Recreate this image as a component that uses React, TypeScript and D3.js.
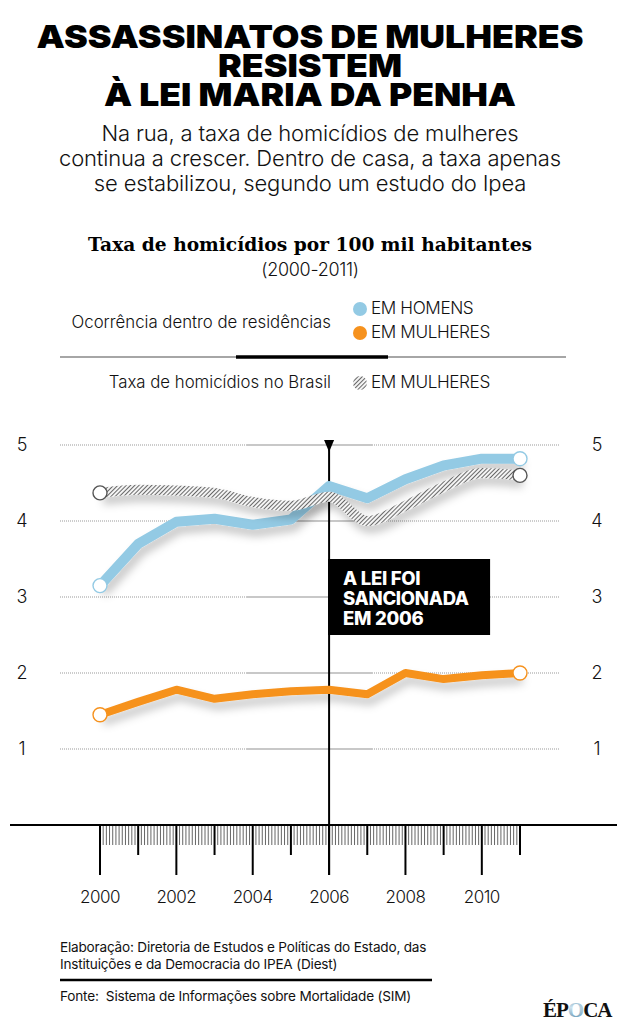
import React from 'react';
import * as d3 from 'd3';

const years = [2000, 2001, 2002, 2003, 2004, 2005, 2006, 2007, 2008, 2009, 2010, 2011];
const menHome = [3.15, 3.7, 3.99, 4.03, 3.95, 4.02, 4.46, 4.3, 4.55, 4.73, 4.82, 4.82];
const womenHome = [1.45, 1.62, 1.78, 1.66, 1.72, 1.76, 1.78, 1.72, 2.0, 1.92, 1.97, 2.0];
const womenBrazil = [4.37, 4.41, 4.4, 4.37, 4.25, 4.2, 4.32, 4.0, 4.2, 4.45, 4.63, 4.6];
const yTicks = [1, 2, 3, 4, 5];
const xLabels = [2000, 2002, 2004, 2006, 2008, 2010];
const lawYear = 2006;

const titleLines = ['ASSASSINATOS DE MULHERES', 'RESISTEM', 'À LEI MARIA DA PENHA'];
const titleWidths = [547, 184, 412];
const subtitleLines = [
  'Na rua, a taxa de homicídios de mulheres',
  'continua a crescer. Dentro de casa, a taxa apenas',
  'se estabilizou, segundo um estudo do Ipea',
];
const noteLines = ['A LEI FOI', 'SANCIONADA', 'EM 2006'];

const BLUE = '#93cae4';
const ORANGE = '#f6921e';
const SANS = 'Inter, "Noto Sans", sans-serif';

export default function App() {
  const x = d3.scaleLinear().domain([2000, 2011]).range([100, 520]);
  const y = d3.scaleLinear().domain([0, 5]).range([825, 445]);
  const lineLin = d3.line<number>().x((_, i) => x(years[i])).y((d) => y(d)).curve(d3.curveLinear);
  const lineSmooth = d3.line<number>().x((_, i) => x(years[i])).y((d) => y(d)).curve(d3.curveMonotoneX);

  const minor: number[] = [];
  for (let yr = 2000; yr < 2011; yr++) {
    for (let k = 1; k < 12; k++) minor.push(yr + k / 12);
  }

  const endCircles = (vals: number[], stroke: string) => (
    <g>
      {[0, vals.length - 1].map((i) => (
        <circle key={i} cx={x(years[i])} cy={y(vals[i])} r={7} fill="#fff" stroke={stroke} strokeWidth={1.4} />
      ))}
    </g>
  );

  return (
    <svg width={620} height={1026} style={{ position: 'absolute', left: 0, top: 0, background: '#fff' }}>
      <defs>
        <pattern id="hatch" patternUnits="userSpaceOnUse" width={3} height={3} patternTransform="rotate(45)">
          <rect width={3} height={3} fill="#f4f4f4" />
          <line x1={0} y1={0} x2={0} y2={3} stroke="#444" strokeWidth={1.6} />
        </pattern>
        <filter id="shadow" x="-10%" y="-50%" width="120%" height="200%">
          <feDropShadow dx={3} dy={7} stdDeviation={4} floodColor="#000" floodOpacity={0.22} />
        </filter>
        <radialGradient id="globe" cx="40%" cy="40%" r="60%">
          <stop offset="0%" stopColor="#cfe3ee" />
          <stop offset="100%" stopColor="#4d86a8" />
        </radialGradient>
      </defs>

      {/* Title */}
      {titleLines.map((t, i) => (
        <text key={t} x={310} y={48 + i * 29} textAnchor="middle" fontFamily={SANS} fontWeight={900}
          fontSize={32} textLength={titleWidths[i]} lengthAdjust="spacingAndGlyphs" fill="#000">{t}</text>
      ))}
      {subtitleLines.map((t, i) => (
        <text key={t} x={310} y={141 + i * 25} textAnchor="middle" fontFamily={SANS} fontWeight={300}
          fontSize={22} letterSpacing={-0.15} fill="#111">{t}</text>
      ))}

      {/* Chart title */}
      <text x={310} y={251} textAnchor="middle" fontFamily='"DejaVu Serif", serif' fontWeight={700}
        fontSize={18.5} textLength={444} lengthAdjust="spacingAndGlyphs" fill="#000">Taxa de homicídios por 100 mil habitantes</text>
      <text x={310} y={276} textAnchor="middle" fontFamily={SANS} fontWeight={300} fontSize={18} letterSpacing={-0.3} fill="#111">(2000-2011)</text>

      {/* Legend */}
      <text x={331} y={328} textAnchor="end" fontFamily={SANS} fontWeight={300} fontSize={16.8} fill="#111">Ocorrência dentro de residências</text>
      <circle cx={360} cy={309} r={7} fill={BLUE} />
      <text x={371} y={314} fontFamily={SANS} fontWeight={300} fontSize={17.2} letterSpacing={-0.4} fill="#111">EM HOMENS</text>
      <circle cx={360} cy={333} r={7} fill={ORANGE} />
      <text x={371} y={338} fontFamily={SANS} fontWeight={300} fontSize={17.2} letterSpacing={-0.4} fill="#111">EM MULHERES</text>
      <line x1={60} x2={566} y1={357} y2={357} stroke="#888" strokeWidth={1.5} />
      <line x1={236} x2={388} y1={357} y2={357} stroke="#000" strokeWidth={3.5} />
      <text x={331} y={388} textAnchor="end" fontFamily={SANS} fontWeight={300} fontSize={16.8} fill="#111">Taxa de homicídios no Brasil</text>
      <circle cx={360} cy={383} r={7} fill="url(#hatch)" />
      <text x={371} y={388} fontFamily={SANS} fontWeight={300} fontSize={17.2} letterSpacing={-0.4} fill="#111">EM MULHERES</text>

      {/* Gridlines */}
      {yTicks.map((t) => (
        <g key={t}>
          <line x1={60} x2={247} y1={y(t)} y2={y(t)} stroke="#999" strokeWidth={1.2} strokeDasharray="1 1" />
          <line x1={247} x2={372} y1={y(t)} y2={y(t)} stroke="#c8c8c8" strokeWidth={2} />
          <line x1={372} x2={560} y1={y(t)} y2={y(t)} stroke="#999" strokeWidth={1.2} strokeDasharray="1 1" />
          <text x={22} y={y(t)} dy="0.35em" textAnchor="middle" fontFamily={SANS} fontWeight={300} fontSize={18} fill="#111">{t}</text>
          <text x={597} y={y(t)} dy="0.35em" textAnchor="middle" fontFamily={SANS} fontWeight={300} fontSize={18} fill="#111">{t}</text>
        </g>
      ))}

      {/* Law vertical line */}
      <line x1={x(lawYear)} x2={x(lawYear)} y1={442} y2={875} stroke="#000" strokeWidth={2} />
      <path d={`M${x(lawYear) - 5},440 L${x(lawYear) + 5},440 L${x(lawYear)},452 Z`} fill="#000" />

      {/* X axis */}
      <line x1={10} x2={617} y1={825} y2={825} stroke="#000" strokeWidth={2} />
      {minor.map((m, i) => (
        <line key={i} x1={x(m)} x2={x(m)} y1={826} y2={845} stroke="#666" strokeWidth={1} />
      ))}
      {years.map((yr) => (
        <line key={yr} x1={x(yr)} x2={x(yr)} y1={825} y2={yr % 2 === 0 ? 875 : 855} stroke="#000" strokeWidth={2} />
      ))}
      {xLabels.map((yr) => (
        <text key={yr} x={x(yr)} y={903} textAnchor="middle" fontFamily={SANS} fontWeight={300} fontSize={17} letterSpacing={-0.5} fill="#111">{yr}</text>
      ))}

      {/* Series */}
      <path d={lineLin(menHome) || ''} fill="none" stroke={BLUE} strokeWidth={10} strokeLinejoin="round" filter="url(#shadow)" />
      <path d={lineSmooth(womenBrazil) || ''} fill="none" stroke="url(#hatch)" strokeWidth={10} filter="url(#shadow)" />
      <path d={lineLin(womenHome) || ''} fill="none" stroke={ORANGE} strokeWidth={8} strokeLinejoin="round" filter="url(#shadow)" />
      {endCircles(menHome, BLUE)}
      {endCircles(womenBrazil, '#555')}
      {endCircles(womenHome, ORANGE)}

      {/* Note box */}
      <rect x={x(lawYear) - 1} y={559} width={162} height={76} fill="#000" />
      {noteLines.map((t, i) => (
        <text key={t} x={x(lawYear) + 14} y={585 + i * 20} fontFamily={SANS} fontWeight={800} fontSize={18.5} letterSpacing={-0.3} fill="#fff">{t}</text>
      ))}

      {/* Footer */}
      <text x={60} y={952} fontFamily={SANS} fontWeight={400} fontSize={13.6} letterSpacing={-0.2} fill="#111">Elaboração: Diretoria de Estudos e Políticas do Estado, das</text>
      <text x={60} y={969} fontFamily={SANS} fontWeight={400} fontSize={13.6} letterSpacing={-0.2} fill="#111">Instituições e da Democracia do IPEA (Diest)</text>
      <line x1={60} x2={432} y1={980} y2={980} stroke="#000" strokeWidth={2.5} />
      <text x={60} y={1001} fontFamily={SANS} fontWeight={400} fontSize={13.6} letterSpacing={-0.2} fill="#111" style={{ whiteSpace: 'pre' }}>Fonte:  Sistema de Informações sobre Mortalidade (SIM)</text>

      {/* Logo */}
      <text x={543} y={1017} fontFamily='"Liberation Serif", serif' fontWeight={700} fontSize={21} letterSpacing={-1} fill="#111">
        ÉP<tspan fill="url(#globe)">O</tspan>CA
      </text>
    </svg>
  );
}
